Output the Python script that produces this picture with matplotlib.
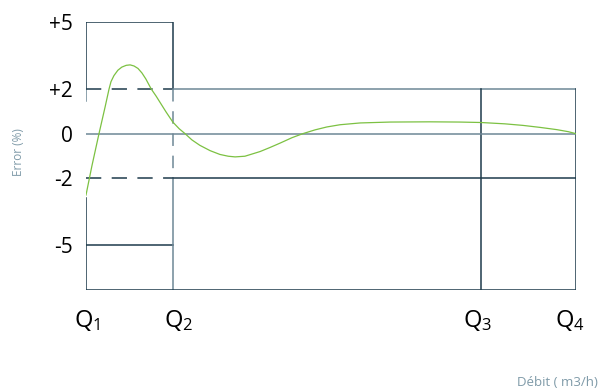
import matplotlib
matplotlib.use("Agg")
import matplotlib.pyplot as plt

plt.rcParams["lines.scale_dashes"] = False
plt.rcParams["mathtext.fontset"] = "custom"
plt.rcParams["mathtext.rm"] = "Open Sans"
plt.rcParams["mathtext.it"] = "Open Sans"

# flow marks (relative position along the axis, Q1 = 0, Q4 = 100)
q_labels = [r"$\mathrm{Q}_1$", r"$\mathrm{Q}_2$", r"$\mathrm{Q}_3$", r"$\mathrm{Q}_4$"]
q_pos = [0.0, 17.8, 80.7, 100.0]

# error limits (%)
y_ticks = [5, 2, 0, -2, -5]
y_tick_labels = ["+5", "+2", "0", "-2", "-5"]

# meter error curve
curve_x = [0.1, 1.3, 2.75, 4.0, 4.8, 5.2, 5.8, 6.6, 7.4, 8.3, 9.1, 9.9, 10.7,
           11.5, 12.3, 13.4, 14.4, 15.2, 16.4, 17.8, 19.1, 20.3, 21.7, 23.3,
           25.4, 27.4, 29.1, 30.5, 32.5, 35.6, 37.6, 39.7, 42.1, 44.3, 46.8,
           49.2, 51.9, 56.0, 62.1, 70.2, 76.3, 80.6, 85.5, 89.2, 92.7, 96.1,
           98.4, 100.0]
curve_y = [-2.75, -1.45, 0.0, 1.2, 2.0, 2.33, 2.6, 2.84, 2.98, 3.06, 3.08,
           3.03, 2.92, 2.72, 2.45, 2.0, 1.68, 1.40, 0.98, 0.52, 0.22, 0.0,
           -0.28, -0.52, -0.76, -0.93, -1.01, -1.04, -1.01, -0.80, -0.62,
           -0.42, -0.18, 0.0, 0.17, 0.30, 0.40, 0.48, 0.52, 0.53, 0.52, 0.50,
           0.44, 0.37, 0.28, 0.18, 0.09, 0.0]

DARK = "#1e3b4b"
GREY = "#6e8796"
TXT = "#7f9aa8"
DASH = (0, (11, 7.5))
LW = 1.1

fig = plt.figure(figsize=(6.04, 3.90), dpi=100)
ax = fig.add_axes([85.5 / 604, 100 / 390, 490.5 / 604, 268 / 390])
ax.set_xlim(q_pos[0], q_pos[-1])
ax.set_ylim(-7, 5)
ax.axis("off")

q1, q2, q3, q4 = q_pos
ybot = -7

# small-flow zone (Q1..Q2), +/-5 %
ax.plot([q1, q1, q2, q2], [2, 5, 5, 2], color=DARK, lw=LW, solid_joinstyle="miter")
ax.plot([q1, q1], [2, 1.45], color=GREY, lw=LW)
ax.plot([q1, q1], [-2.9, ybot], color=DARK, lw=LW)
ax.plot([q1, q2], [2, 2], color=DARK, lw=LW, linestyle=DASH)
ax.plot([q1, q2], [-2, -2], color=DARK, lw=LW, linestyle=DASH)
ax.plot([q1, q2], [-5, -5], color=DARK, lw=LW)
ax.plot([q2, q2], [2, -2], color=GREY, lw=LW, linestyle=(0, (9, 7)))
ax.plot([q2, q2], [-2, ybot], color=GREY, lw=LW)

# high-flow zone (Q2..Q4), +/-2 %
ax.plot([q2, q4], [2, 2], color=GREY, lw=LW)
ax.plot([q4, q4], [2, ybot], color=DARK, lw=LW)
ax.plot([q2, q4], [-2, -2], color=DARK, lw=LW)
ax.plot([q3, q3], [2, ybot], color=DARK, lw=LW)
ax.plot([q1, q4], [0, 0], color=GREY, lw=LW)
ax.plot([q1, q4], [ybot, ybot], color=DARK, lw=LW)

ax.plot(curve_x, curve_y, color="#7cc142", lw=0.9, zorder=5,
        solid_joinstyle="round")

for v, lab in zip(y_ticks, y_tick_labels):
    ax.text(-2.6, v, lab, ha="right", va="center_baseline", fontsize=15,
            family="Open Sans", color="black", clip_on=False)

label_shift = [0.3, 1.2, -0.8, -1.2]
for x, dx, lab in zip(q_pos, label_shift, q_labels):
    ax.text(x + dx, -8.35, lab, ha="center", va="center", fontsize=17,
            color="black", clip_on=False)

fig.text(18 / 604, 1 - 152 / 390, "Error (%)", rotation=90, ha="center",
         va="center", fontsize=8.5, color=TXT, family="Open Sans")
fig.text(598 / 604, 1 - 382 / 390, "Débit ( m3/h)", ha="right", va="center",
         fontsize=9.5, color=TXT, family="Open Sans")

fig.savefig("out.png", dpi=100)
